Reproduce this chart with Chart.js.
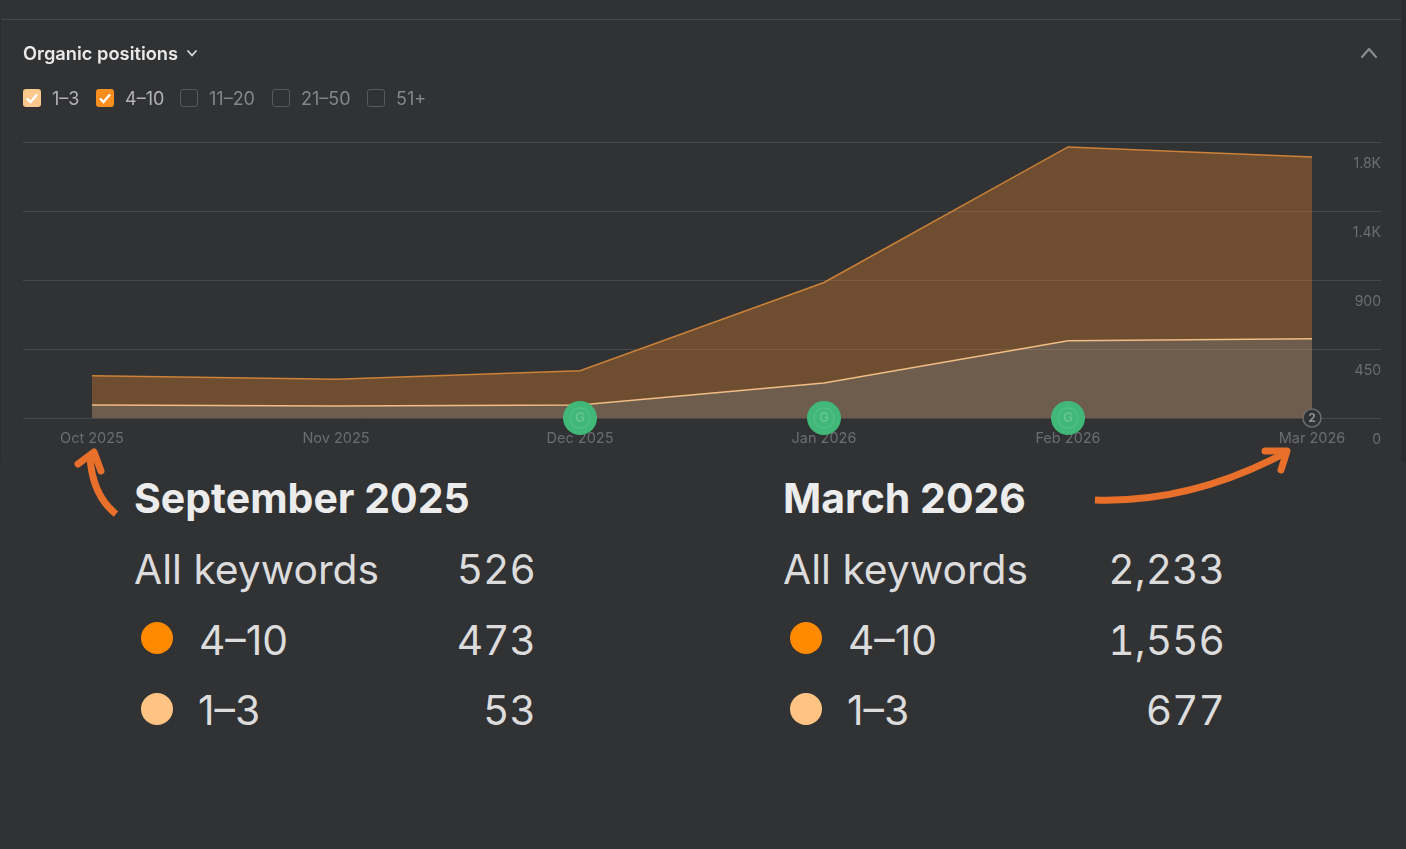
<!DOCTYPE html>
<html>
<head>
<meta charset="utf-8">
<title>Organic positions</title>
<script src="https://cdn.jsdelivr.net/npm/chart.js@4"></script>
<style>
html, body { margin: 0; padding: 0; background: #313234; }
body { position: relative; width: 1406px; height: 849px; overflow: hidden; font-family: Inter, sans-serif; color: #e4e4e5; }
#grafica_1 { position: absolute; left: 0; top: 0; }
.abs { position: absolute; white-space: nowrap; }
.edge { position: absolute; background: #2b2c2e; }
.check { position: absolute; top: 89px; width: 18px; height: 18px; border-radius: 3px; box-sizing: border-box; }
.check.off { border: 1px solid #58595b; }
.filter { position: absolute; top: 88px; font-size: 18px; line-height: 22px; }
.sum { font-size: 40.8px; line-height: 48px; color: #dcdcdd; }
.sum.num { font-variant-numeric: tabular-nums; }
.sum.head { font-weight: 700; font-size: 41px; color: #ececed; }
.dot { position: absolute; width: 32px; height: 32px; border-radius: 50%; }
svg.over { position: absolute; left: 0; top: 0; pointer-events: none; }
</style>
</head>
<body>
<div class="edge" style="left:0;top:19px;width:1px;height:443px"></div>
<div class="edge" style="left:1401px;top:0;width:5px;height:462px"></div>
<div class="abs" style="left:1px;top:19px;width:1400px;height:1px;background:#47484a"></div>

<canvas id="grafica_1" width="1406" height="462"></canvas>

<div class="abs" style="left:23px;top:42px;font-size:18.3px;line-height:22px;font-weight:600;color:#e9e9ea">Organic positions</div>
<div id="filtros"></div>
<div id="resumen"></div>

<svg class="over" width="1406" height="849" fill="none" stroke-linecap="round" stroke-linejoin="round">
  <path d="M188 51 L192 55.5 L196 51" stroke="#d8d8d9" stroke-width="1.8"/>
  <path d="M1362 57 L1369 49 L1376 57" stroke="#8a8b8d" stroke-width="2.2"/>
  <g stroke="#e8702a" stroke-width="7">
    <path d="M116 514 Q92 495 90 456" stroke-linecap="butt"/>
    <path d="M78 464 L94 452 L101 471"/>
    <path d="M1095 500 Q1190 503 1283 454" stroke-linecap="butt"/>
    <path d="M1265 451 L1287 451 L1281 470"/>
  </g>
</svg>

<script>
// datos
var meses = ['Oct 2025', 'Nov 2025', 'Dec 2025', 'Jan 2026', 'Feb 2026', 'Mar 2026'];
var pos1a3 = [85, 79, 85, 229, 504, 517];
var pos4a10 = [190, 173, 223, 655, 1264, 1185];
var yValores = [0, 450, 900, 1350, 1800];
var yEtiquetas = ['0', '450', '900', '1.4K', '1.8K'];
var mesesGoogle = [2, 3, 4]; // circulos verdes
var mesesNota = [5];

var filtros = ['1–3', '4–10', '11–20', '21–50', '51+'];
var filtrosColor = ['#fdc88c', '#f78f1e', null, null, null];
var filtrosCaja = [23, 96, 180, 272, 367];
var filtrosTexto = [52, 125, 209, 301, 396];

var resumenTitulos = ['September 2025', 'March 2026'];
var resumenTotal = ['526', '2,233'];
var resumen4a10 = ['473', '1,556'];
var resumen1a3 = ['53', '677'];

var html = '';
filtros.forEach(function (f, i) {
    var on = filtrosColor[i];
    html += '<div class="check' + (on ? '' : ' off') + '" style="left:' + filtrosCaja[i] + 'px;' + (on ? 'background:' + on : '') + '">';
    if (on) html += '<svg width="18" height="18" fill="none"><path d="M4 9.5 L7.5 13 L14 5.5" stroke="#fff" stroke-width="2.4"/></svg>';
    html += '</div><div class="filter" style="left:' + filtrosTexto[i] + 'px;color:' + (on ? '#b4b4b6' : '#858688') + '">' + f + '</div>';
});
document.getElementById('filtros').innerHTML = html;

var colX = [134, 783];
var colDer = [870, 181]; // right offset of the numbers
var html2 = '';
resumenTitulos.forEach(function (t, i) {
    var x = colX[i];
    var der = 'right:' + colDer[i] + 'px';
    html2 += '<div class="abs sum head" style="left:' + x + 'px;top:474px">' + t + '</div>';
    html2 += '<div class="abs sum" style="left:' + x + 'px;top:545px">All keywords</div>';
    html2 += '<div class="abs sum num" style="' + der + ';top:545px">' + resumenTotal[i] + '</div>';
    html2 += '<div class="dot" style="left:' + (x + 7) + 'px;top:622px;background:#ff8a00"></div>';
    html2 += '<div class="abs sum" style="left:' + (x + 65) + 'px;top:616px">4–10</div>';
    html2 += '<div class="abs sum num" style="' + der + ';top:616px">' + resumen4a10[i] + '</div>';
    html2 += '<div class="dot" style="left:' + (x + 7) + 'px;top:693px;background:#ffc483"></div>';
    html2 += '<div class="abs sum" style="left:' + (x + 64) + 'px;top:686px">1–3</div>';
    html2 += '<div class="abs sum num" style="' + der + ';top:686px">' + resumen1a3[i] + '</div>';
});
document.getElementById('resumen').innerHTML = html2;

function puntos(arr) {
    return arr.map(function (v, i) { return { x: i, y: v }; });
}
function marcas(arr) {
    return arr.map(function (i) { return { x: i, y: 0 }; });
}

// letras dentro de los circulos
var letrasPlugin = {
    id: 'letras',
    afterDatasetsDraw: function (chart) {
        var c = chart.ctx;
        c.save();
        c.textAlign = 'center';
        c.textBaseline = 'middle';
        c.font = '600 13px Inter';
        c.fillStyle = 'rgba(255,255,255,0.2)';
        c.strokeStyle = 'rgba(255,255,255,0.09)';
        c.lineWidth = 1.5;
        mesesGoogle.forEach(function (i) {
            var px = chart.scales.x.getPixelForValue(i);
            var py = chart.scales.y.getPixelForValue(0);
            c.fillText('G', px, py);
            c.beginPath();
            c.arc(px, py, 10, 0, Math.PI * 2);
            c.stroke();
        });
        c.fillStyle = '#8f9092';
        c.font = '700 12px Inter';
        mesesNota.forEach(function (i) {
            c.fillText('2', chart.scales.x.getPixelForValue(i), chart.scales.y.getPixelForValue(0));
        });
        c.restore();
    }
};

var gx1 = document.getElementById('grafica_1').getContext('2d');
var myChart = new Chart(gx1, {
    type: 'line',
    data: {
        datasets: [{
            label: 'notas',
            data: marcas(mesesNota),
            stack: 'marcas',
            showLine: false,
            clip: false,
            pointRadius: 9,
            pointBackgroundColor: '#313234',
            pointBorderColor: '#6b6c6e',
            pointBorderWidth: 1.5
        }, {
            label: 'google',
            data: marcas(mesesGoogle),
            stack: 'marcas',
            showLine: false,
            clip: false,
            pointRadius: 17,
            pointBackgroundColor: '#41b877',
            pointBorderWidth: 0
        }, {
            label: '1-3',
            data: puntos(pos1a3),
            stack: 'pos',
            fill: 'origin',
            tension: 0,
            backgroundColor: 'rgba(252, 197, 135, 0.3)',
            borderColor: '#f0bd85',
            borderWidth: 1.5,
            pointRadius: 0
        }, {
            label: '4-10',
            data: puntos(pos4a10),
            stack: 'pos',
            fill: '-1',
            tension: 0,
            backgroundColor: 'rgba(255, 141, 39, 0.3)',
            borderColor: '#cc8238',
            borderWidth: 1.5,
            pointRadius: 0
        }]
    },
    options: {
        responsive: false,
        animation: false,
        layout: { padding: { left: 23, right: 25, top: 142, bottom: 0 } },
        plugins: { legend: { display: false }, tooltip: { enabled: false } },
        scales: {
            x: {
                type: 'linear',
                min: -0.2828,
                max: 5.2828,
                grid: { display: false },
                border: { display: false },
                afterBuildTicks: function (scale) {
                    scale.ticks = meses.map(function (m, i) { return { value: i }; });
                },
                afterFit: function (scale) { scale.height = 44; },
                ticks: {
                    autoSkip: false,
                    maxRotation: 0,
                    padding: 4,
                    color: '#6c6d6f',
                    font: { family: 'Inter', size: 14.5 },
                    callback: function (v) { return meses[v]; }
                }
            },
            y: {
                position: 'right',
                stacked: true,
                min: 0,
                max: 1800,
                grid: { color: '#47484a', lineWidth: 1, drawTicks: false },
                border: { display: false },
                afterBuildTicks: function (scale) {
                    scale.ticks = yValores.map(function (v) { return { value: v }; });
                },
                ticks: {
                    mirror: true,
                    padding: 0,
                    labelOffset: 22,
                    autoSkip: false,
                    color: '#6c6d6f',
                    font: { family: 'Inter', size: 14 },
                    callback: function (v) { return yEtiquetas[yValores.indexOf(v)]; }
                }
            }
        }
    },
    plugins: [letrasPlugin]
});
</script>
</body>
</html>
